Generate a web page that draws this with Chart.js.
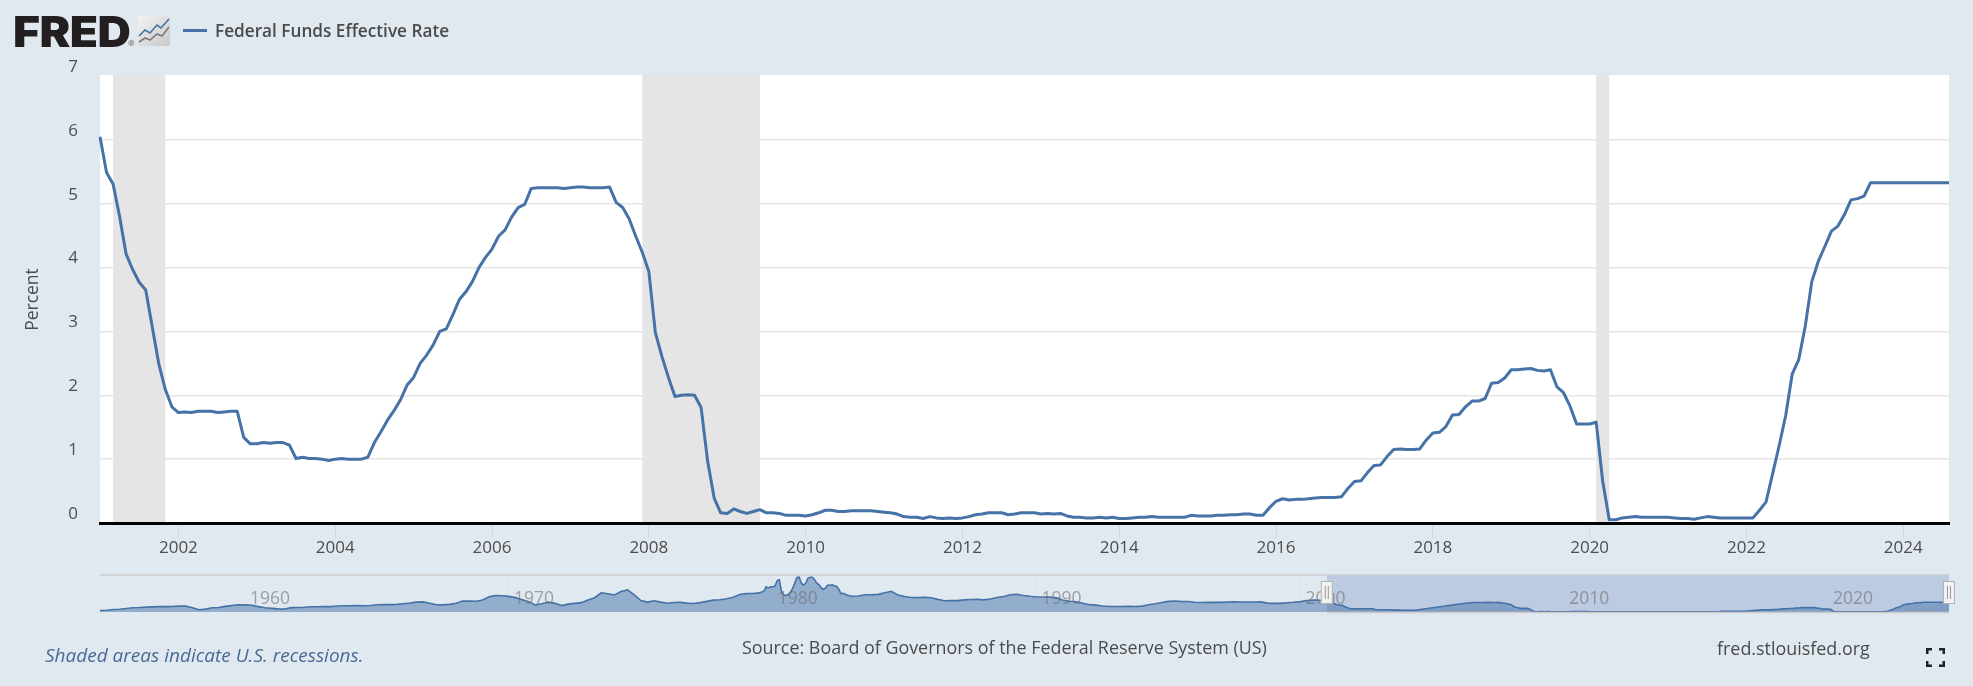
<!DOCTYPE html>
<html>
<head>
<meta charset="utf-8">
<title>Federal Funds Effective Rate</title>
<script src="https://cdn.jsdelivr.net/npm/chart.js@4"></script>
<style>
    html, body { margin: 0; padding: 0; width: 1973px; height: 686px; overflow: hidden; background: #e1e9f0; font-family: "Open Sans", sans-serif; }
    canvas { position: absolute; left: 0; }
    .txt { position: absolute; white-space: nowrap; line-height: 1; }
    #logo { left: 13px; top: 6px; font: 900 42px Inter, sans-serif; color: #231f20; letter-spacing: -0.5px; transform: scaleX(1.1); transform-origin: left center; }
    #logoR { left: 128px; top: 39px; font-size: 8px; color: #555; }
    #legendLine { position: absolute; left: 183px; top: 29px; width: 24px; height: 3px; background: #4572a7; }
    #legendText { left: 215px; top: 22px; font-size: 17.2px; font-weight: 600; color: #4a4a4a; }
    #note { left: 45px; top: 646px; font-size: 19px; font-style: italic; color: #4a6a96; }
    #source { left: 742px; top: 639px; font-size: 17.9px; color: #4a4a4a; }
    #site { left: 1717px; top: 640px; font-size: 17.9px; color: #4a4a4a; }
    #icon, #full { position: absolute; }
</style>
</head>
<body>
<canvas id="mainChart" width="1973" height="686" style="top:0"></canvas>
<canvas id="navChart" width="1973" height="60" style="top:560px"></canvas>

<div class="txt" id="logo">FRED</div>
<div class="txt" id="logoR">®</div>
<svg id="icon" style="left:138px;top:16px" width="32" height="30" viewBox="0 0 32 30">
    <defs><linearGradient id="iconBg" x1="0" y1="0" x2="1" y2="1"><stop offset="0" stop-color="#f4f4f4"/><stop offset="1" stop-color="#c8c8c8"/></linearGradient></defs>
    <rect width="32" height="30" rx="2" fill="url(#iconBg)"/>
    <polyline points="1,20 7,14 12,17 19,9 23,12 31,3" fill="none" stroke="#4572a7" stroke-width="1.6"/>
    <polyline points="1,26 7,22 12,24 19,18 24,20 31,11" fill="none" stroke="#7a7a7a" stroke-width="1.6"/>
</svg>
<div id="legendLine"></div>
<div class="txt" id="legendText">Federal Funds Effective Rate</div>
<div class="txt" id="note">Shaded areas indicate U.S. recessions.</div>
<div class="txt" id="source">Source: Board of Governors of the Federal Reserve System (US)</div>
<div class="txt" id="site">fred.stlouisfed.org</div>
<svg id="full" style="left:1926px;top:648px" width="19" height="19" viewBox="0 0 19 19">
    <path d="M0 6V0H6V2.5H2.5V6ZM13 0H19V6H16.5V2.5H13ZM0 13H2.5V16.5H6V19H0ZM19 13V19H13V16.5H16.5V13Z" fill="#222"/>
</svg>

<script>
// monthly, Jan 2001 to Aug 2024
var rates = [
    6.05, 5.49, 5.31, 4.80, 4.21, 3.97, 3.77, 3.65, 3.07, 2.49, 2.09, 1.82,
    1.73, 1.74, 1.73, 1.75, 1.75, 1.75, 1.73, 1.74, 1.75, 1.75, 1.34, 1.24,
    1.24, 1.26, 1.25, 1.26, 1.26, 1.22, 1.01, 1.03, 1.01, 1.01, 1.00, 0.98,
    1.00, 1.01, 1.00, 1.00, 1.00, 1.03, 1.26, 1.43, 1.61, 1.76, 1.93, 2.16,
    2.28, 2.50, 2.63, 2.79, 3.00, 3.04, 3.26, 3.50, 3.62, 3.78, 4.00, 4.16,
    4.29, 4.49, 4.59, 4.79, 4.94, 4.99, 5.24, 5.25, 5.25, 5.25, 5.25, 5.24,
    5.25, 5.26, 5.26, 5.25, 5.25, 5.25, 5.26, 5.02, 4.94, 4.76, 4.49, 4.24,
    3.94, 2.98, 2.61, 2.28, 1.98, 2.00, 2.01, 2.00, 1.81, 0.97, 0.39, 0.16,
    0.15, 0.22, 0.18, 0.15, 0.18, 0.21, 0.16, 0.16, 0.15, 0.12, 0.12, 0.12,
    0.11, 0.13, 0.16, 0.20, 0.20, 0.18, 0.18, 0.19, 0.19, 0.19, 0.19, 0.18,
    0.17, 0.16, 0.14, 0.10, 0.09, 0.09, 0.07, 0.10, 0.08, 0.07, 0.08, 0.07,
    0.08, 0.10, 0.13, 0.14, 0.16, 0.16, 0.16, 0.13, 0.14, 0.16, 0.16, 0.16,
    0.14, 0.15, 0.14, 0.15, 0.11, 0.09, 0.09, 0.08, 0.08, 0.09, 0.08, 0.09,
    0.07, 0.07, 0.08, 0.09, 0.09, 0.10, 0.09, 0.09, 0.09, 0.09, 0.09, 0.12,
    0.11, 0.11, 0.11, 0.12, 0.12, 0.13, 0.13, 0.14, 0.14, 0.12, 0.12, 0.24,
    0.34, 0.38, 0.36, 0.37, 0.37, 0.38, 0.39, 0.40, 0.40, 0.40, 0.41, 0.54,
    0.65, 0.66, 0.79, 0.90, 0.91, 1.04, 1.15, 1.16, 1.15, 1.15, 1.16, 1.30,
    1.41, 1.42, 1.51, 1.69, 1.70, 1.82, 1.91, 1.91, 1.95, 2.19, 2.20, 2.27,
    2.40, 2.40, 2.41, 2.42, 2.39, 2.38, 2.40, 2.13, 2.04, 1.83, 1.55, 1.55,
    1.55, 1.58, 0.65, 0.05, 0.05, 0.08, 0.09, 0.10, 0.09, 0.09, 0.09, 0.09,
    0.09, 0.08, 0.07, 0.07, 0.06, 0.08, 0.10, 0.09, 0.08, 0.08, 0.08, 0.08,
    0.08, 0.08, 0.20, 0.33, 0.77, 1.21, 1.68, 2.33, 2.56, 3.08, 3.78, 4.10,
    4.33, 4.57, 4.65, 4.83, 5.06, 5.08, 5.12, 5.33, 5.33, 5.33, 5.33, 5.33,
    5.33, 5.33, 5.33, 5.33, 5.33, 5.33, 5.33, 5.33
];
var firstYear = 2001;
var yTicks = [0, 1, 2, 3, 4, 5, 6, 7];
var recessions = [['2001-03', '2001-11'], ['2007-12', '2009-06'], ['2020-02', '2020-04']];
var navTickYears = [1960, 1970, 1980, 1990, 2000, 2010, 2020];

// navigator series: quarterly 1954Q3-1979Q2, monthly 1979-07 to 1982-12, quarterly 1983-2000, then rates
var navEarly = [
    0.80, 0.99,
    1.34, 1.50, 1.94, 2.36,
    2.48, 2.69, 2.81, 2.93,
    2.93, 3.00, 3.23, 3.25,
    2.30, 1.26, 1.57, 2.33,
    2.49, 3.10, 3.57, 3.99,
    3.93, 3.70, 2.94, 2.30,
    2.00, 1.73, 1.68, 2.40,
    2.46, 2.61, 2.85, 2.92,
    2.97, 2.96, 3.33, 3.45,
    3.46, 3.49, 3.46, 3.58,
    3.97, 4.08, 4.07, 4.17,
    4.56, 4.91, 5.41, 5.56,
    4.82, 3.99, 3.89, 4.17,
    4.79, 5.98, 5.94, 5.92,
    6.57, 8.33, 8.98, 8.94,
    8.57, 7.88, 6.70, 5.57,
    3.86, 4.56, 5.48, 4.75,
    3.54, 4.30, 4.74, 5.14,
    6.54, 7.82, 10.56, 10.00,
    9.32, 11.25, 12.09, 9.35,
    6.30, 5.42, 6.16, 5.41,
    4.83, 5.20, 5.28, 4.87,
    4.66, 5.16, 5.82, 6.51,
    6.76, 7.28, 8.10, 9.58,
    10.07, 10.18
];
var navPeak = [
    10.47, 10.94, 11.43, 13.77, 13.18, 13.78,
    13.82, 14.13, 17.19, 17.61, 10.98, 9.47, 9.03, 9.61, 10.87, 12.81, 15.85, 18.90,
    19.08, 15.93, 14.70, 15.72, 18.52, 19.10, 19.04, 17.82, 15.87, 15.08, 13.31, 12.37,
    13.22, 14.78, 14.68, 14.94, 14.45, 14.15, 12.59, 10.12, 10.31, 9.71, 9.20, 8.95
];
var navLate = [
    8.65, 8.80, 9.46, 9.43,
    9.69, 10.56, 11.39, 9.27,
    8.48, 7.92, 7.90, 8.10,
    7.83, 6.92, 6.21, 6.27,
    6.22, 6.65, 6.84, 6.92,
    6.66, 7.16, 7.98, 8.47,
    9.45, 9.73, 9.08, 8.61,
    8.25, 8.24, 8.16, 7.74,
    6.43, 5.86, 5.65, 4.82,
    4.02, 3.77, 3.26, 3.04,
    3.04, 3.00, 3.06, 2.99,
    3.21, 3.94, 4.49, 5.17,
    5.81, 6.02, 5.80, 5.72,
    5.36, 5.24, 5.31, 5.28,
    5.28, 5.52, 5.53, 5.51,
    5.52, 5.50, 5.53, 4.86,
    4.73, 4.75, 5.09, 5.31,
    5.68, 6.27, 6.52, 6.47
];

var months = rates.map(function (r, i) {
    var m = i % 12 + 1;
    return (firstYear + Math.floor(i / 12)) + '-' + (m < 10 ? '0' + m : m);
});

var navPoints = [];
navEarly.forEach(function (v, i) { navPoints.push({ x: 1954.5 + i / 4, y: v }); });
navPeak.forEach(function (v, i) { navPoints.push({ x: 1979.5 + i / 12, y: v }); });
navLate.forEach(function (v, i) { navPoints.push({ x: 1983 + i / 4, y: v }); });
rates.forEach(function (v, i) { navPoints.push({ x: firstYear + i / 12, y: v }); });
var navMin = 1954.5;
var navMax = firstYear + (rates.length - 1) / 12;

var fontFamily = '"Open Sans", sans-serif';

var recessionPlugin = {
    id: 'recessionBands',
    beforeDraw: function (chart) {
        var a = chart.chartArea;
        chart.ctx.save();
        chart.ctx.fillStyle = '#ffffff';
        chart.ctx.fillRect(a.left, a.top - 1, a.right - a.left, a.bottom - a.top + 1);
        chart.ctx.restore();
    },
    beforeDatasetsDraw: function (chart) {
        var a = chart.chartArea, x = chart.scales.x;
        chart.ctx.save();
        chart.ctx.fillStyle = '#e5e5e5';
        recessions.forEach(function (r) {
            var x0 = x.getPixelForValue(months.indexOf(r[0]));
            var x1 = x.getPixelForValue(months.indexOf(r[1]));
            chart.ctx.fillRect(x0, a.top - 1, x1 - x0, a.bottom - a.top + 1);
        });
        chart.ctx.restore();
    }
};

new Chart(document.getElementById('mainChart'), {
    type: 'line',
    plugins: [recessionPlugin],
    data: {
        labels: months,
        datasets: [{
            label: 'Federal Funds Effective Rate',
            data: rates,
            borderColor: '#4572a7',
            borderWidth: 3,
            pointRadius: 0,
            tension: 0,
            borderJoinStyle: 'round'
        }]
    },
    options: {
        responsive: false,
        animation: false,
        devicePixelRatio: 1,
        layout: { padding: { top: 76, right: 24, bottom: 123, left: 0 } },
        plugins: { legend: { display: false }, tooltip: { enabled: false } },
        scales: {
            x: {
                type: 'category',
                offset: false,
                afterBuildTicks: function (axis) {
                    axis.ticks = axis.ticks.filter(function (t) {
                        var lab = months[t.value];
                        return lab.slice(5) === '01' && parseInt(lab.slice(0, 4)) % 2 === 0;
                    });
                },
                afterFit: function (axis) { axis.height = 40; axis.paddingLeft = 0; axis.paddingRight = 0; },
                grid: { drawOnChartArea: false, drawTicks: true, tickLength: 15, tickColor: '#cbd9e6', tickWidth: 1 },
                border: { color: '#000000', width: 3, z: 1 },
                ticks: {
                    autoSkip: false,
                    maxRotation: 0,
                    padding: 0,
                    color: '#4d4d4d',
                    font: { family: fontFamily, size: 17 },
                    callback: function (value) { return months[value].slice(0, 4); }
                }
            },
            y: {
                min: 0,
                max: 7,
                afterBuildTicks: function (axis) {
                    axis.ticks = yTicks.map(function (v) { return { value: v }; });
                },
                afterFit: function (axis) { axis.width = 100; },
                title: {
                    display: true,
                    text: 'Percent',
                    color: '#4d4d4d',
                    font: { family: fontFamily, size: 17.5 },
                    padding: { top: 23, bottom: 0 }
                },
                border: { display: false },
                grid: {
                    drawTicks: false,
                    lineWidth: 1.5,
                    color: function (c) { return (c.tick.value === 0 || c.tick.value === 7) ? 'transparent' : '#e6e6e6'; }
                },
                ticks: {
                    padding: 22,
                    labelOffset: -9,
                    color: '#4d4d4d',
                    font: { family: fontFamily, size: 17 }
                }
            }
        }
    }
});

var navPlugin = {
    id: 'navMask',
    beforeDatasetsDraw: function (chart) {
        var a = chart.chartArea, ctx = chart.ctx;
        var x0 = chart.scales.x.getPixelForValue(firstYear);
        ctx.save();
        ctx.fillStyle = '#bccae2';
        ctx.fillRect(x0, a.top, a.right - x0, a.bottom - a.top);
        ctx.restore();
    },
    afterDraw: function (chart) {
        var a = chart.chartArea, ctx = chart.ctx, x = chart.scales.x;
        var x0 = x.getPixelForValue(firstYear);
        ctx.save();
        // axis labels sit on top of the area, inside the plot
        ctx.font = '17.5px ' + fontFamily;
        ctx.fillStyle = 'rgba(110,110,110,0.6)';
        ctx.textBaseline = 'middle';
        navTickYears.forEach(function (yr) {
            ctx.fillText(String(yr), x.getPixelForValue(yr) + 5, a.top + 24);
        });
        ctx.strokeStyle = '#cccccc';
        ctx.lineWidth = 1.5;
        ctx.beginPath();
        ctx.moveTo(a.left, a.top);
        ctx.lineTo(a.right, a.top);
        ctx.moveTo(x0, a.bottom + 0.5);
        ctx.lineTo(a.right, a.bottom + 0.5);
        ctx.stroke();
        [x0, a.right].forEach(function (hx) {
            ctx.fillStyle = '#f2f2f2';
            ctx.strokeStyle = '#b3b3b3';
            ctx.lineWidth = 1;
            ctx.fillRect(hx - 6, a.top + 6, 12, 23);
            ctx.strokeRect(hx - 5.5, a.top + 6.5, 11, 22);
            ctx.strokeStyle = '#999999';
            ctx.beginPath();
            ctx.moveTo(hx - 1.5, a.top + 11);
            ctx.lineTo(hx - 1.5, a.top + 24);
            ctx.moveTo(hx + 1.5, a.top + 11);
            ctx.lineTo(hx + 1.5, a.top + 24);
            ctx.stroke();
        });
        ctx.restore();
    }
};

new Chart(document.getElementById('navChart'), {
    type: 'line',
    plugins: [navPlugin],
    data: {
        datasets: [{
            data: navPoints,
            borderColor: '#4572a7',
            borderWidth: 1.6,
            backgroundColor: 'rgba(69,114,167,0.5)',
            fill: 'origin',
            pointRadius: 0,
            tension: 0
        }]
    },
    options: {
        responsive: false,
        animation: false,
        devicePixelRatio: 1,
        parsing: false,
        layout: { padding: { top: 15, right: 24, bottom: 8, left: 100 } },
        plugins: { legend: { display: false }, tooltip: { enabled: false } },
        scales: {
            x: {
                type: 'linear',
                min: navMin,
                max: navMax,
                afterBuildTicks: function (axis) {
                    axis.ticks = navTickYears.map(function (v) { return { value: v }; });
                },
                afterFit: function (axis) { axis.height = 0; },
                grid: { drawTicks: false, color: 'rgba(190,200,210,0.15)' },
                border: { display: false },
                ticks: { display: false }
            },
            y: {
                display: false,
                min: 0,
                max: 20.3
            }
        }
    }
});
</script>
</body>
</html>
